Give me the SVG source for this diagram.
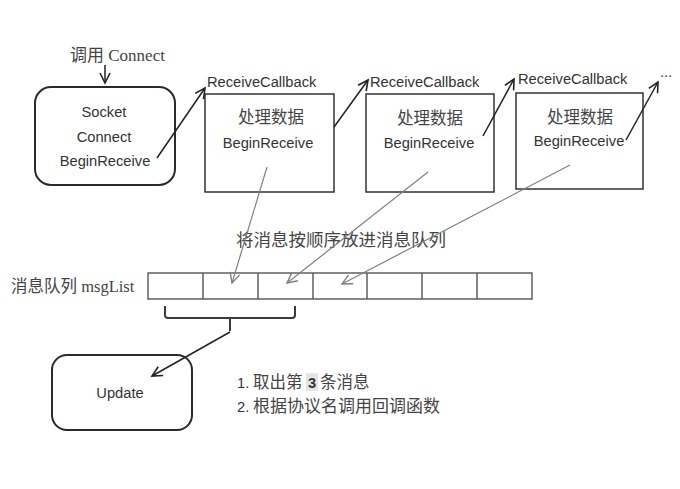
<svg xmlns="http://www.w3.org/2000/svg" width="680" height="489" viewBox="0 0 680 489">
<style>
.bg{fill:#ffffff}
.sans{font-family:"Liberation Sans","Noto Sans CJK SC",sans-serif;font-size:14.7px;fill:#333333}
.cjk{font-family:"Liberation Serif","Noto Sans CJK SC",serif;fill:#444444}
.box{fill:none;stroke:#333333;stroke-width:1.5}
.rbox{fill:none;stroke:#2a2a2a;stroke-width:2}
.cell{fill:none;stroke:#555555;stroke-width:1.4}
.blk{fill:none;stroke:#222222;stroke-width:1.5}
.gry{fill:none;stroke:#808080;stroke-width:1.2}
</style>
<defs>
<marker id="ab" markerUnits="userSpaceOnUse" markerWidth="14" markerHeight="14" refX="11" refY="6" orient="auto">
<path d="M1,1 L11,6 L1,11" fill="none" stroke="#222222" stroke-width="1.6"/>
</marker>
<marker id="ag" markerUnits="userSpaceOnUse" markerWidth="14" markerHeight="14" refX="11" refY="6" orient="auto">
<path d="M1,1 L11,6 L1,11" fill="none" stroke="#808080" stroke-width="1.4"/>
</marker>
</defs>
<rect class="bg" x="0" y="0" width="680" height="489"/>

<g id="call-connect">
<text class="cjk" x="70" y="61" font-size="17">调用 Connect</text>
</g>

<g id="socket">
<rect class="rbox" x="35" y="87" width="140" height="98" rx="16" ry="16"/>
<text class="sans" x="104" y="117" text-anchor="middle">Socket</text>
<text class="sans" x="104" y="142" text-anchor="middle">Connect</text>
<text class="sans" x="105" y="166" text-anchor="middle">BeginReceive</text>
</g>

<g id="recv1">
<text class="sans" x="207" y="87">ReceiveCallback</text>
<rect class="box" x="205" y="94" width="129" height="98"/>
<text class="cjk" x="271" y="123" font-size="16.5" text-anchor="middle">处理数据</text>
<text class="sans" x="268" y="148" text-anchor="middle">BeginReceive</text>
</g>

<g id="recv2">
<text class="sans" x="370" y="87">ReceiveCallback</text>
<rect class="box" x="366" y="94" width="128" height="98"/>
<text class="cjk" x="430" y="124" font-size="16.5" text-anchor="middle">处理数据</text>
<text class="sans" x="429" y="148" text-anchor="middle">BeginReceive</text>
</g>

<g id="recv3">
<text class="sans" x="518" y="84">ReceiveCallback</text>
<rect class="box" x="516" y="93" width="127" height="96"/>
<text class="cjk" x="580" y="123" font-size="16.5" text-anchor="middle">处理数据</text>
<text class="sans" x="579" y="146" text-anchor="middle">BeginReceive</text>
<text class="sans" x="660" y="77">...</text>
</g>

<g id="enqueue-label">
<text class="cjk" x="341" y="246" font-size="17.5" text-anchor="middle">将消息按顺序放进消息队列</text>
</g>

<g id="queue">
<text class="cjk" x="11" y="292" font-size="16.5">消息队列 msgList</text>
<rect class="cell" x="148" y="273" width="384" height="26"/>
<path class="cell" d="M203,273 V299 M258,273 V299 M313,273 V299 M367,273 V299 M422,273 V299 M477,273 V299"/>
</g>

<g id="brace">
<path d="M165,306 L165,315 Q165,318 168,318 L292,318 Q295,318 295,315 L295,306 M230,318 L230,331" fill="none" stroke="#3a3a3a" stroke-width="2"/>
</g>

<g id="update">
<rect class="rbox" x="52" y="355" width="140" height="75" rx="15" ry="15"/>
<text class="sans" x="120" y="398" text-anchor="middle">Update</text>
</g>

<g id="steps">
<rect x="306" y="373" width="12" height="18" fill="#e4e4e4"/>
<text class="sans" x="237" y="388" font-size="15">1.</text>
<text class="cjk" x="253" y="388" font-size="16.5">取出第</text>
<text class="sans" x="312" y="388" font-size="15" font-weight="bold" text-anchor="middle">3</text>
<text class="cjk" x="320" y="388" font-size="16.5">条消息</text>
<text class="sans" x="237" y="412" font-size="15">2.</text>
<text class="cjk" x="253" y="412" font-size="17">根据协议名调用回调函数</text>
</g>

<g id="connectors">
<line class="blk" x1="105" y1="65" x2="105" y2="83" marker-end="url(#ab)"/>
<line class="blk" x1="157" y1="158" x2="205" y2="88" marker-end="url(#ab)"/>
<line class="blk" x1="334" y1="127" x2="368" y2="80" marker-end="url(#ab)"/>
<line class="blk" x1="483" y1="136" x2="514" y2="79" marker-end="url(#ab)"/>
<line class="blk" x1="626" y1="140" x2="658" y2="82" marker-end="url(#ab)"/>
<line class="gry" x1="267" y1="167" x2="232" y2="283" marker-end="url(#ag)"/>
<line class="gry" x1="428" y1="172" x2="287" y2="283" marker-end="url(#ag)"/>
<line class="gry" x1="570" y1="165" x2="342" y2="284" marker-end="url(#ag)"/>
<line class="blk" x1="230" y1="332" x2="152" y2="376" marker-end="url(#ab)"/>
</g>
</svg>
